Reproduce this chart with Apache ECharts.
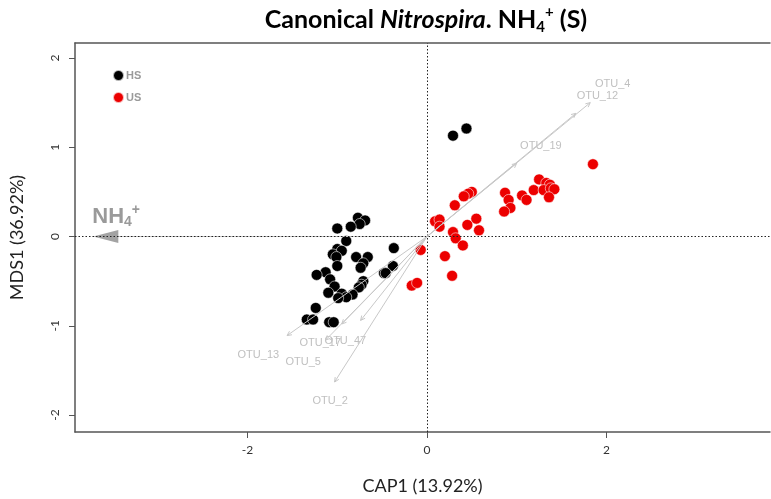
<!DOCTYPE html>
<html><head><meta charset="utf-8">
<script src="https://cdn.jsdelivr.net/npm/echarts@6/dist/echarts.min.js"></script>
<style>html,body{margin:0;padding:0;background:#fff;overflow:hidden}#c{width:771px;height:499px}</style>
</head><body><div id="c"></div>
<script>
// ---- data ----
const hsX = [-0.77,-0.69,-0.75,-0.85,-1.00,-0.90,-0.37,-1.00,-0.95,-1.05,-1.01,-0.79,-0.66,-0.71,-1.00,-0.74,-0.38,-0.48,-0.46,-1.13,-1.23,-1.08,-0.71,-0.73,-0.76,-1.03,-1.10,-0.95,-0.83,-0.90,-0.99,-1.24,-1.34,-1.27,-1.09,-1.04,0.29,0.44];
const hsY = [0.21,0.18,0.14,0.11,0.09,-0.05,-0.13,-0.14,-0.16,-0.20,-0.23,-0.23,-0.23,-0.30,-0.33,-0.35,-0.33,-0.41,-0.41,-0.40,-0.43,-0.48,-0.50,-0.54,-0.57,-0.56,-0.63,-0.64,-0.65,-0.68,-0.69,-0.80,-0.93,-0.93,-0.96,-0.96,1.13,1.21];
const usX = [1.85,1.25,1.33,1.37,1.19,1.30,1.38,1.42,1.36,1.06,1.11,0.87,0.91,0.93,0.86,0.50,0.46,0.41,0.31,0.09,0.14,0.14,0.55,0.45,0.29,0.58,0.32,0.40,-0.07,0.20,0.28,-0.17,-0.11];
const usY = [0.81,0.64,0.60,0.58,0.52,0.52,0.54,0.53,0.44,0.46,0.41,0.49,0.41,0.32,0.28,0.50,0.48,0.45,0.35,0.17,0.19,0.11,0.20,0.13,0.05,0.07,-0.02,-0.10,-0.15,-0.22,-0.44,-0.55,-0.52];
const otuNames  = ['OTU_4','OTU_12','OTU_19','OTU_13','OTU_17','OTU_47','OTU_5','OTU_2'];
const otuX      = [1.82, 1.66, 1.00, -1.56, -0.95, -0.74, -1.13, -1.03];
const otuY      = [1.50, 1.38, 0.82, -1.11, -0.98, -0.94, -1.16, -1.63];
const otuLabelX = [2.07, 1.90, 1.27, -1.88, -1.19, -0.91, -1.38, -1.08];
const otuLabelY = [1.71, 1.58, 1.02, -1.33, -1.19, -1.17, -1.41, -1.84];
const envX = [-3.72];
const envY = [0];
const xTicks = [-2, 0, 2];
const yTicks = [-2, -1, 0, 1, 2];
const groups = ['HS', 'US'];

const chart = echarts.init(document.getElementById('c'), null, {renderer: 'canvas'});
const pair = (xs, ys) => xs.map((x, i) => [x, ys[i]]);
const gray = '#c8c8c8';
const boxLine = () => ({show: true, onZero: false, lineStyle: {color: '#555', width: 1.5}});
const X_MIN = -3.924, X_MAX = 3.824;

const option = {
  animation: false,
  backgroundColor: '#fff',
  graphic: [{
    type: 'text', x: 426, y: 5,
    style: {
      text: '{a|Canonical }{i|Nitrospira}{a|. NH}{sb|4}{sp|+}{a| (S)}',
      textAlign: 'center',
      rich: {
        a: {fontFamily: 'Lato', fontWeight: 'bold', fontSize: 25, lineHeight: 30, fill: '#000'},
        i: {fontFamily: 'Lato', fontWeight: 'bold', fontStyle: 'italic', fontSize: 25, lineHeight: 30, fill: '#000'},
        sb: {fontFamily: 'Lato', fontWeight: 'bold', fontSize: 15, lineHeight: 15, verticalAlign: 'bottom', fill: '#000'},
        sp: {fontFamily: 'Lato', fontWeight: 'bold', fontSize: 15, lineHeight: 15, verticalAlign: 'top', fill: '#000'}
      }
    }
  }],
  legend: {
    data: groups, orient: 'vertical', left: 107, top: 64,
    itemWidth: 11, itemHeight: 11, itemGap: 9,
    textStyle: {color: '#9a9a9a', fontWeight: 'bold', fontSize: 11, fontFamily: 'Liberation Sans', padding: [0, 0, 0, -3]}
  },
  grid: {left: 75, top: 43, width: 695, height: 389, outerBoundsMode: 'none', containLabel: false, show: false},
  xAxis: [{
    type: 'value', min: X_MIN, max: X_MAX, position: 'bottom',
    name: 'CAP1 (13.92%)', nameLocation: 'middle', nameGap: 45,
    nameTextStyle: {fontFamily: 'Lato', fontSize: 18, color: '#222'},
    axisLine: boxLine(),
    axisTick: {show: true, customValues: xTicks, length: 6, lineStyle: {color: '#555'}},
    axisLabel: {customValues: xTicks, fontFamily: 'Lato', fontSize: 12, color: '#333', margin: 12},
    splitLine: {show: false}
  }, {
    type: 'value', min: X_MIN, max: X_MAX, position: 'top',
    axisLine: boxLine(), axisTick: {show: false}, axisLabel: {show: false}, splitLine: {show: false}
  }],
  yAxis: {
    type: 'value', min: -2.19, max: 2.168,
    name: 'MDS1 (36.92%)', nameLocation: 'middle', nameGap: 49,
    nameTextStyle: {fontFamily: 'Lato', fontSize: 18, color: '#222'},
    axisLine: boxLine(),
    axisTick: {show: true, customValues: yTicks, length: 6, lineStyle: {color: '#555'}},
    axisLabel: {customValues: yTicks, fontFamily: 'Lato', fontSize: 12, color: '#333', rotate: 90, margin: 14},
    splitLine: {show: false}
  },
  series: [
    {
      name: 'HS', type: 'scatter', data: pair(hsX, hsY), symbolSize: 11, z: 3,
      itemStyle: {color: '#000', borderColor: 'rgba(255,255,255,0.7)', borderWidth: 0.8, opacity: 1},
      markLine: {
        silent: true, symbol: 'none', animation: false,
        label: {show: false},
        lineStyle: {type: [1.5, 2], color: '#222', width: 1},
        data: [{xAxis: 0}, {yAxis: 0}]
      }
    },
    {
      name: 'US', type: 'scatter', data: pair(usX, usY), symbolSize: 11, z: 3,
      itemStyle: {color: '#ec0000', borderColor: 'rgba(255,255,255,0.7)', borderWidth: 0.8, opacity: 1}
    },
    {
      name: 'env', type: 'custom', z: 4, silent: true,
      data: pair(envX, envY),
      encode: {x: 0, y: 1},
      renderItem(params, api) {
        const o = api.coord([0, 0]);
        const t = api.coord([api.value(0), api.value(1)]);
        const ang = Math.atan2(t[1] - o[1], t[0] - o[0]);
        const L = 25, W = 6.5;
        const bx = t[0] - L * Math.cos(ang), by = t[1] - L * Math.sin(ang);
        const nx = -Math.sin(ang) * W, ny = Math.cos(ang) * W;
        return {type: 'group', children: [
          {type: 'line', shape: {x1: o[0], y1: o[1], x2: bx, y2: by}, style: {stroke: gray, lineWidth: 1}},
          {type: 'polygon', shape: {points: [t, [bx + nx, by + ny], [bx - nx, by - ny]]}, style: {fill: '#a3a3a3'}},
          {type: 'text', x: t[0] - 1, y: t[1] - 7,
            style: {text: '{a|NH}{b|4}{c|+}', textVerticalAlign: 'bottom', rich: {
              a: {fontFamily: 'Liberation Sans', fontWeight: 'bold', fontSize: 22, lineHeight: 26, fill: '#9a9a9a'},
              b: {fontFamily: 'Liberation Sans', fontWeight: 'bold', fontSize: 14, lineHeight: 13, verticalAlign: 'bottom', fill: '#9a9a9a'},
              c: {fontFamily: 'Liberation Sans', fontWeight: 'bold', fontSize: 14, lineHeight: 13, verticalAlign: 'top', fill: '#9a9a9a'}
            }}}
        ]};
      }
    },
    {
      name: 'otu', type: 'custom', z: 5, silent: true,
      data: otuX.map((x, i) => [x, otuY[i], otuLabelX[i], otuLabelY[i]]),
      encode: {x: [0, 2], y: [1, 3]},
      renderItem(params, api) {
        const o = api.coord([0, 0]);
        const t = api.coord([api.value(0), api.value(1)]);
        const l = api.coord([api.value(2), api.value(3)]);
        const ang = Math.atan2(t[1] - o[1], t[0] - o[0]);
        const L = 5, a = Math.PI / 7;
        const p1 = [t[0] - L * Math.cos(ang - a), t[1] - L * Math.sin(ang - a)];
        const p2 = [t[0] - L * Math.cos(ang + a), t[1] - L * Math.sin(ang + a)];
        return {type: 'group', children: [
          {type: 'line', shape: {x1: o[0], y1: o[1], x2: t[0], y2: t[1]}, style: {stroke: gray, lineWidth: 1}},
          {type: 'polyline', shape: {points: [p1, t, p2]}, style: {stroke: gray, lineWidth: 1, fill: null}},
          {type: 'text', x: l[0], y: l[1], style: {text: otuNames[params.dataIndex], textAlign: 'center', textVerticalAlign: 'middle',
            fontFamily: 'Liberation Sans', fontSize: 11, fill: '#c0c0c0'}}
        ]};
      }
    }
  ]
};
chart.setOption(option);
</script>
</body></html>
